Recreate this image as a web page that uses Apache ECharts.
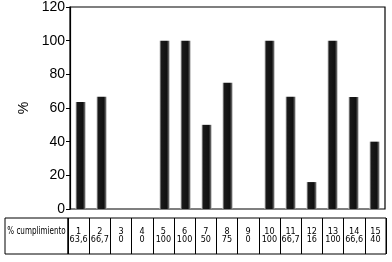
<!DOCTYPE html>
<html><head><meta charset="utf-8">
<script src="https://cdn.jsdelivr.net/npm/echarts@6/dist/echarts.min.js"></script>
<style>html,body{margin:0;padding:0;background:#fff}#c{width:392px;height:262px}</style>
</head><body><div id="c"></div>
<script>
const categories = ['1','2','3','4','5','6','7','8','9','10','11','12','13','14','15'];
const cumplimiento = [63.6, 66.7, 0, 0, 100, 100, 50, 75, 0, 100, 66.7, 16, 100, 66.6, 40];
const yTicks = {min: 0, max: 120, interval: 20};
const rowHeader = '% cumplimiento';
const yName = '%';

const fmt = v => String(v).replace('.', ',');
const tableLabels = categories.map((c, i) => c + '\n' + fmt(cumplimiento[i]));
const narrow = '"Liberation Sans Narrow", "DejaVu Sans Condensed", "Arial Narrow", "Liberation Sans", sans-serif';

const chart = echarts.init(document.getElementById('c'), null, {renderer: 'canvas'});
chart.setOption({
  animation: false,
  backgroundColor: '#fff',
  grid: [
    {left: 70, top: 7, width: 315, height: 202, show: true, borderColor: '#000', borderWidth: 1.2, backgroundColor: 'transparent'},
    {left: 68, top: 218, width: 318, height: 36, show: true, borderColor: '#000', borderWidth: 1, backgroundColor: 'transparent'}
  ],
  xAxis: [
    {type: 'category', gridIndex: 0, data: categories, axisLine: {show: false}, axisTick: {show: false}, axisLabel: {show: false}},
    {type: 'category', gridIndex: 1, data: tableLabels, position: 'bottom',
     axisLine: {show: false}, axisTick: {show: false},
     splitLine: {show: true, interval: 0, lineStyle: {color: '#000', width: 1}},
     axisLabel: {show: true, interval: 0, inside: true, margin: 10, color: '#000', fontSize: 9, lineHeight: 8.5, fontFamily: narrow, align: 'center'}}
  ],
  yAxis: [
    {type: 'value', gridIndex: 0, min: yTicks.min, max: yTicks.max, interval: yTicks.interval,
     name: yName, nameLocation: 'middle', nameGap: 37, nameRotate: 90,
     nameTextStyle: {color: '#000', fontSize: 14, fontFamily: '"Liberation Sans", Arial, sans-serif'},
     axisLine: {show: true, lineStyle: {color: '#000', width: 1.2}},
     axisTick: {show: true, length: 4, lineStyle: {color: '#000'}},
     splitLine: {show: false},
     axisLabel: {color: '#000', fontSize: 14, margin: 5, fontFamily: '"Liberation Sans", Arial, sans-serif'}},
    {type: 'value', gridIndex: 1, min: 0, max: 1, show: false}
  ],
  graphic: [
    {type: 'rect', shape: {x: 5, y: 218, width: 63, height: 36}, style: {fill: 'transparent', stroke: '#000', lineWidth: 1}},
    {type: 'text', x: 36.5, y: 231, scaleX: 0.8, style: {text: rowHeader, fill: '#000', font: '10px ' + narrow, textAlign: 'center', textVerticalAlign: 'middle'}}
  ],
  series: [{
    type: 'bar', xAxisIndex: 0, yAxisIndex: 0, data: cumplimiento, barWidth: 10,
    itemStyle: {color: new echarts.graphic.LinearGradient(0, 0, 1, 0, [
      {offset: 0, color: '#c8c8c8'}, {offset: 0.18, color: '#1a1a1a'},
      {offset: 0.7, color: '#111'}, {offset: 0.85, color: '#3a3a3a'}, {offset: 1, color: '#9a9a9a'}
    ])}
  }]
});
</script></body></html>
